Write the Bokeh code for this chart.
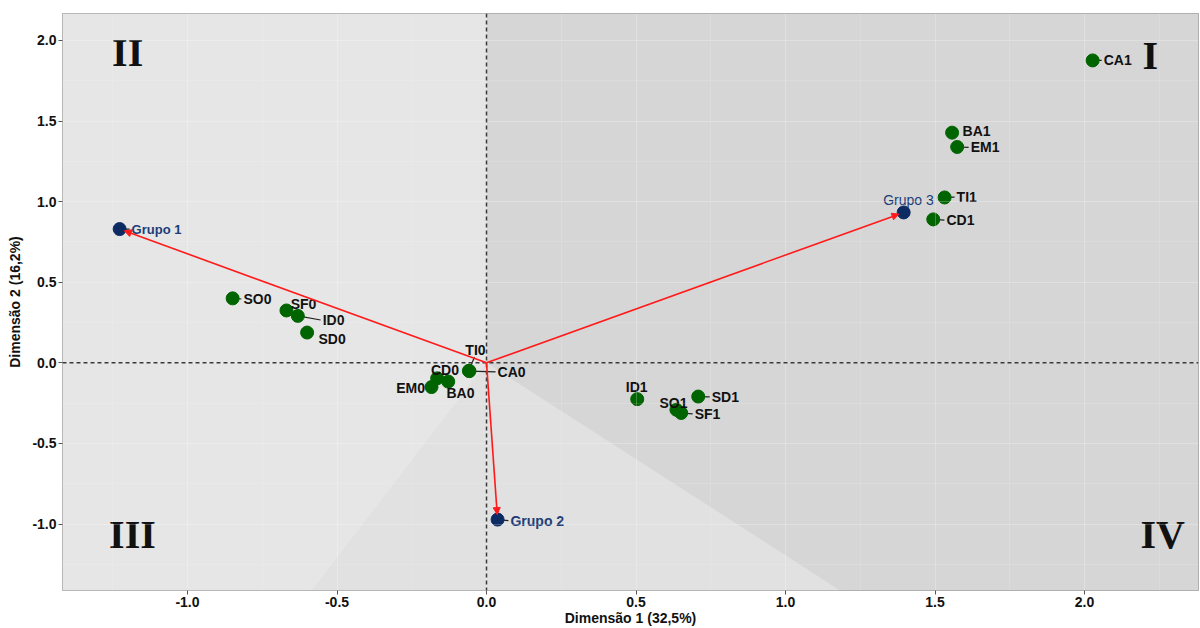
from bokeh.plotting import figure
from bokeh.models import ColumnDataSource, Span, Arrow, NormalHead, NumeralTickFormatter, FixedTicker
from bokeh.core.properties import value
from bokeh.embed import file_html
from bokeh.resources import INLINE

# ---------------- data ----------------
cat_names = ["CA1", "BA1", "EM1", "TI1", "CD1", "SO0", "SF0", "ID0", "SD0",
             "TI0", "CA0", "CD0", "BA0", "EM0", "ID1", "SO1", "SF1", "SD1"]
cat_x = [2.027, 1.557, 1.574, 1.532, 1.494, -0.849, -0.669, -0.631, -0.600,
         -0.059, -0.057, -0.165, -0.128, -0.184, 0.504, 0.635, 0.651, 0.708]
cat_y = [1.876, 1.428, 1.339, 1.026, 0.890, 0.400, 0.325, 0.291, 0.188,
         -0.049, -0.051, -0.096, -0.116, -0.150, -0.225, -0.291, -0.311, -0.209]
# label anchor positions
cat_lx = [2.064, 1.592, 1.619, 1.572, 1.538, -0.813, -0.612, -0.548, -0.562,
          -0.037, 0.037, -0.139, -0.087, -0.254, 0.502, 0.625, 0.696, 0.753]
cat_ly = [1.876, 1.436, 1.337, 1.028, 0.885, 0.396, 0.365, 0.266, 0.149,
          0.080, -0.056, -0.043, -0.186, -0.155, -0.149, -0.248, -0.316, -0.211]
cat_align = ["left", "left", "left", "left", "left", "left", "center", "left", "left",
             "center", "left", "center", "center", "center", "center", "center", "left", "left"]
cat_seg = [1, 0, 1, 1, 1, 1, 0, 1, 0, 1, 1, 0, 0, 0, 0, 0, 1, 1]

grp_names = ["Grupo 1", "Grupo 2", "Grupo 3"]
grp_x = [-1.227, 0.037, 1.395]
grp_y = [0.830, -0.972, 0.933]
grp_lx = [-1.187, 0.080, 1.411]
grp_ly = [0.830, -0.978, 1.009]
grp_align = ["left", "left", "center"]
grp_seg = [1, 1, 0]
grp_style = ["bold", "bold", "normal"]

quad_names = ["I", "II", "III", "IV"]
quad_x = [2.22, -1.20, -1.184, 2.261]
quad_y = [1.907, 1.926, -1.065, -1.065]

# shaded region boundaries (rays from origin, where they meet the bottom edge)
left_ray = (-0.582, -1.406)
right_ray = (1.177, -1.406)

x_ticks = [-1.0, -0.5, 0.0, 0.5, 1.0, 1.5, 2.0]
y_ticks = [-1.0, -0.5, 0.0, 0.5, 1.0, 1.5, 2.0]

# ---------------- figure ----------------
X0, X1 = -1.418, 2.381
Y0, Y1 = -1.412, 2.167

p = figure(width=1200, height=628, x_range=(X0, X1), y_range=(Y0, Y1),
           output_backend="svg", toolbar_location=None,
           min_border_left=62, min_border_right=2, min_border_top=13, min_border_bottom=0,
           background_fill_color="#e6e6e6", border_fill_color="white")
p.outline_line_color = "#8a8a8a"
p.outline_line_width = 1

# background regions
k = 10.0 / abs(left_ray[1])
lx_far = left_ray[0] * k
k2 = 10.0 / abs(right_ray[1])
rx_far = right_ray[0] * k2
regA = ([0, 0, -20, -20, lx_far], [0, 20, 20, -10, -10])
regB = ([0, lx_far, rx_far], [0, -10, -10])
regC = ([0, rx_far, 20, 20, 0], [0, -10, -10, 20, 20])
p.patches(xs=[regA[0], regB[0], regC[0]], ys=[regA[1], regB[1], regC[1]],
          fill_color=["#e6e6e6", "#e1e1e1", "#d6d6d6"], line_color=None, level="underlay")

# grid
for g in (p.xgrid, p.ygrid):
    g.level = "glyph"
    g.grid_line_color = "white"
    g.grid_line_alpha = 0.25
    g.minor_grid_line_color = "white"
    g.minor_grid_line_alpha = 0.12
p.xaxis.ticker = FixedTicker(ticks=x_ticks, minor_ticks=[-1.25, -0.75, -0.25, 0.25, 0.75, 1.25, 1.75, 2.25])
p.yaxis.ticker = FixedTicker(ticks=y_ticks, minor_ticks=[-1.25, -0.75, -0.25, 0.25, 0.75, 1.25, 1.75])

# dashed reference lines
p.add_layout(Span(location=0, dimension="height", line_color="#3a3a3a", line_dash="4 3", line_width=1.5))
p.add_layout(Span(location=0, dimension="width", line_color="#3a3a3a", line_dash="4 3", line_width=1.5))

# arrows from origin to groups (stop a few px before point)
PXX, PXY = 299.0, 161.5
ax_end, ay_end = [], []
for gx, gy in zip(grp_x, grp_y):
    dxp, dyp = gx * PXX, gy * PXY
    L = (dxp ** 2 + dyp ** 2) ** 0.5
    f = (L - 5.0) / L
    ax_end.append(gx * f)
    ay_end.append(gy * f)
asrc = ColumnDataSource(dict(xs=[0.0] * 3, ys=[0.0] * 3, xe=ax_end, ye=ay_end))
p.add_layout(Arrow(end=NormalHead(size=7, fill_color="#ff1a1a", line_color="#ff1a1a", line_width=1),
                   x_start="xs", y_start="ys", x_end="xe", y_end="ye", source=asrc,
                   line_color="#ff1a1a", line_width=1.6))

# leader segments
sx0, sy0, sx1, sy1 = [], [], [], []
for x, y, lx, ly, al, s in zip(cat_x + grp_x, cat_y + grp_y, cat_lx + grp_lx, cat_ly + grp_ly,
                               cat_align + grp_align, cat_seg + grp_seg):
    if not s:
        continue
    sx0.append(x); sy0.append(y)
    if al == "left":
        sx1.append(lx - 2.0 / PXX); sy1.append(ly)
    else:
        sx1.append(lx - 1.0 / PXX); sy1.append(ly - 7.0 / PXY)
p.segment(x0=sx0, y0=sy0, x1=sx1, y1=sy1, line_color="#222222", line_width=1.2)

# points
p.scatter(cat_x, cat_y, size=13, fill_color="#006400", line_color="#006400")
p.scatter(grp_x, grp_y, size=13, fill_color="#0d2b63", line_color="#0d2b63")

# labels
csrc = ColumnDataSource(dict(x=cat_lx, y=cat_ly, t=cat_names, a=cat_align))
p.text(x="x", y="y", text="t", text_align="a", text_baseline="middle", source=csrc,
       text_font=value("Liberation Sans"), text_font_style="bold", text_font_size="14px",
       text_color="#111111")
gsrc = ColumnDataSource(dict(x=grp_lx, y=grp_ly, t=grp_names, a=grp_align, s=grp_style,
                             fs=["13px", "14px", "14px"]))
p.text(x="x", y="y", text="t", text_align="a", text_baseline="middle", source=gsrc,
       text_font=value("Liberation Sans"), text_font_style="s", text_font_size="fs",
       text_color="#1c3d78")

qsrc = ColumnDataSource(dict(x=quad_x, y=quad_y, t=quad_names))
p.text(x="x", y="y", text="t", text_align="center", text_baseline="middle", source=qsrc,
       text_font=value("Liberation Serif"), text_font_style="bold", text_font_size="40px",
       text_color="#111111")

# axes
for ax in (p.xaxis, p.yaxis):
    ax.formatter = NumeralTickFormatter(format="0.0")
    ax.axis_line_color = None
    ax.major_tick_line_color = "#555555"
    ax.major_tick_out = 4
    ax.major_tick_in = 0
    ax.minor_tick_line_color = None
    ax.major_label_text_font = "Liberation Sans"
    ax.major_label_text_font_style = "bold"
    ax.major_label_text_font_size = "14px"
    ax.major_label_text_color = "#111111"
    ax.major_label_standoff = 2
    ax.axis_label_text_font = "Liberation Sans"
    ax.axis_label_text_font_size = "14px"
    ax.axis_label_text_color = "#111111"
p.xaxis.axis_label = "Dimensão 1 (32,5%)"
p.xaxis.axis_label_text_font_style = "bold"
p.xaxis.axis_label_standoff = 0
p.yaxis.axis_label = "Dimensão 2 (16,2%)"
p.yaxis.axis_label_text_font_style = "bold"
p.yaxis.axis_label_standoff = 6

open("out.html", "w").write(file_html(p, INLINE))
